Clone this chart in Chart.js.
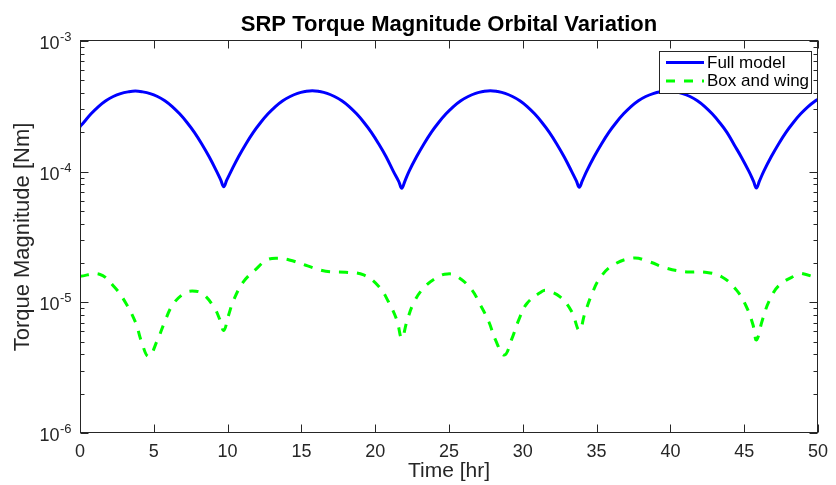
<!DOCTYPE html>
<html>
<head>
<meta charset="utf-8">
<script src="https://cdn.jsdelivr.net/npm/chart.js@4.4.0/dist/chart.umd.min.js"></script>
<style>
html,body{margin:0;padding:0;background:#fff;}
canvas{display:block;}
</style>
</head>
<body>
<canvas id="c" width="836" height="485" style="width:836px;height:485px"></canvas>
<script>
// values
const fullTime = [
  0, 0.25, 0.75, 1.25, 1.75, 2.25, 2.75, 3.25, 3.75, 4.25, 4.75, 5.25, 5.75, 6.25, 6.75, 7.25, 7.75, 8.25, 8.75, 9.25, 9.54, 9.74, 9.94,
  10.24, 10.74, 11.24, 11.74, 12.24, 12.74, 13.24, 13.74, 14.24, 14.74, 15.24, 15.74, 16.24, 16.74, 17.24, 17.74, 18.24, 18.74, 19.24, 19.74, 20.24, 20.74, 21.24, 21.6, 21.8, 22.0,
  22.3, 22.8, 23.3, 23.8, 24.3, 24.8, 25.3, 25.8, 26.3, 26.8, 27.3, 27.8, 28.3, 28.8, 29.3, 29.8, 30.3, 30.8, 31.3, 31.8, 32.3, 32.8, 33.3, 33.63, 33.83, 34.03,
  34.33, 34.83, 35.33, 35.83, 36.33, 36.83, 37.33, 37.83, 38.33, 38.83, 39.33, 39.83, 40.33, 40.83, 41.33, 41.83, 42.33, 42.83, 43.33, 43.83, 44.33, 44.83, 45.33, 45.63, 45.83, 46.03,
  46.33, 46.83, 47.33, 47.83, 48.33, 48.83, 49.33, 49.83, 50];
const fullTorque = [
  2.21e-4, 2.38e-4, 2.77e-4, 3.15e-4, 3.49e-4, 3.76e-4, 3.96e-4, 4.08e-4, 4.14e-4, 4.08e-4, 3.96e-4, 3.76e-4, 3.49e-4, 3.15e-4, 2.77e-4, 2.38e-4, 2.00e-4, 1.63e-4, 1.30e-4, 1.01e-4, 8.6e-5, 7.67e-5, 8.6e-5,
  1.01e-4, 1.30e-4, 1.63e-4, 2.00e-4, 2.38e-4, 2.77e-4, 3.15e-4, 3.49e-4, 3.76e-4, 3.97e-4, 4.10e-4, 4.17e-4, 4.10e-4, 3.97e-4, 3.76e-4, 3.49e-4, 3.15e-4, 2.77e-4, 2.38e-4, 2.00e-4, 1.63e-4, 1.30e-4, 1.00e-4, 8.4e-5, 7.46e-5, 8.4e-5,
  1.01e-4, 1.30e-4, 1.63e-4, 2.00e-4, 2.38e-4, 2.77e-4, 3.15e-4, 3.49e-4, 3.76e-4, 3.97e-4, 4.10e-4, 4.17e-4, 4.10e-4, 3.97e-4, 3.76e-4, 3.49e-4, 3.15e-4, 2.77e-4, 2.38e-4, 2.00e-4, 1.63e-4, 1.30e-4, 1.01e-4, 8.5e-5, 7.6e-5, 8.5e-5,
  1.01e-4, 1.30e-4, 1.63e-4, 2.00e-4, 2.38e-4, 2.77e-4, 3.15e-4, 3.49e-4, 3.76e-4, 3.96e-4, 4.09e-4, 4.15e-4, 4.09e-4, 3.96e-4, 3.76e-4, 3.49e-4, 3.15e-4, 2.77e-4, 2.38e-4, 2.00e-4, 1.60e-4, 1.28e-4, 1.00e-4, 8.45e-5, 7.5e-5, 8.45e-5,
  1.01e-4, 1.30e-4, 1.63e-4, 2.00e-4, 2.38e-4, 2.77e-4, 3.15e-4, 3.49e-4, 3.58e-4];

const boxTime = [0, 1.32, 2.33, 3.12, 3.79, 4.13, 4.65, 5.25, 5.7, 6.26, 7.04, 7.6, 8.28, 9.06, 9.47, 9.74, 10.07, 10.41, 11.08, 11.98,
  12.65, 13.4, 14.18, 15.42, 16.65, 17.99, 19.22, 20.23, 20.9, 21.47, 21.8, 22.14, 22.59, 23.26, 24.27, 24.9, 25.46, 26.47, 27.14,
  27.7, 28.15, 28.75, 29.27, 29.72, 30.28, 31.29, 31.63, 32.53, 33.31, 33.83, 34.2, 34.66, 35.22, 36.12, 37.5, 38.54, 39.77, 41.12,
  42.35, 43.47, 44.48, 45.15, 45.6, 45.83, 46.23, 46.72, 47.4, 48.63, 48.85, 50];
const boxTorque = [1.58e-5, 1.64e-5, 1.31e-5, 9.8e-6, 6.9e-6, 5.15e-6, 3.85e-6, 5.15e-6, 6.9e-6, 9.5e-6, 1.17e-5, 1.22e-5, 1.17e-5, 9.25e-6, 7.4e-6, 6.1e-6, 8.0e-6, 1.04e-5, 1.44e-5, 1.82e-5,
  2.11e-5, 2.17e-5, 2.11e-5, 1.90e-5, 1.73e-5, 1.70e-5, 1.62e-5, 1.33e-5, 1.01e-5, 7.3e-6, 5.3e-6, 7.1e-6, 9.8e-6, 1.28e-5, 1.57e-5, 1.65e-5, 1.60e-5, 1.28e-5, 9.5e-6,
  7.1e-6, 5.15e-6, 3.95e-6, 5.3e-6, 7.3e-6, 9.8e-6, 1.21e-5, 1.23e-5, 1.10e-5, 8.5e-6, 6.1e-6, 8.2e-6, 1.14e-5, 1.53e-5, 1.93e-5, 2.18e-5, 2.05e-5, 1.82e-5, 1.71e-5,
  1.70e-5, 1.57e-5, 1.24e-5, 9.25e-6, 6.7e-6, 5.15e-6, 7.3e-6, 1.04e-5, 1.36e-5, 1.64e-5, 1.67e-5, 1.53e-5];

const seriesNames = ['Full model', 'Box and wing'];
const chartTitle = 'SRP Torque Magnitude Orbital Variation';
const yDecades = [-6, -5, -4, -3];

const FONT = "'Liberation Sans', Arial, Helvetica, sans-serif";
const AXIS = '#262626';

const pts = (xs, ys) => xs.map((t, i) => ({x: t, y: ys[i]}));

// MATLAB style box with inward ticks on all four sides, plus 10^k labels and title
const frame = {
  id: 'frame',
  afterDatasetsDraw(chart){
    const {ctx, chartArea: a, scales: {x, y}} = chart;
    const L = Math.floor(a.left) + 0.5, R = Math.floor(a.right) + 0.5;
    const T = Math.floor(a.top) - 0.5, B = Math.floor(a.bottom) - 0.5;
    ctx.save();
    ctx.strokeStyle = AXIS;
    ctx.lineWidth = 1;
    ctx.strokeRect(L, T, R - L, B - T);
    ctx.beginPath();
    x.ticks.forEach(tk => {
      const px = Math.round(x.getPixelForValue(tk.value)) + 0.5;
      ctx.moveTo(px, B); ctx.lineTo(px, B - 8);
      ctx.moveTo(px, T); ctx.lineTo(px, T + 8);
    });
    yDecades.forEach(k => {
      for(let m = 1; m <= 9; m++){
        const v = m * Math.pow(10, k);
        if(v > y.max * 1.0001) break;
        const py = Math.round(y.getPixelForValue(v)) + 0.5;
        const len = m === 1 ? 8 : 4;
        ctx.moveTo(L, py); ctx.lineTo(L + len, py);
        ctx.moveTo(R, py); ctx.lineTo(R - len, py);
      }
    });
    ctx.stroke();

    ctx.fillStyle = AXIS;
    ctx.textBaseline = 'alphabetic';
    yDecades.forEach(k => {
      const py = y.getPixelForValue(Math.pow(10, k));
      ctx.font = '18px ' + FONT;
      ctx.textAlign = 'right';
      ctx.fillText('10', 59.5, py + 8);
      ctx.font = '13px ' + FONT;
      ctx.textAlign = 'left';
      ctx.fillText(String(k), 60, py);
    });

    // title centred over the axes, not the canvas
    ctx.fillStyle = '#000';
    ctx.font = 'bold 22px ' + FONT;
    ctx.textAlign = 'center';
    ctx.fillText(chartTitle, (a.left + a.right) / 2, 31);
    ctx.restore();
  }
};

// boxed legend, top right inside the axes
const boxLegend = {
  id: 'boxLegend',
  afterDraw(chart){
    const {ctx} = chart;
    const x0 = 659.5, y0 = 51.5, w = 152, h = 42;
    ctx.save();
    ctx.fillStyle = '#fff';
    ctx.fillRect(x0, y0, w, h);
    ctx.strokeStyle = AXIS;
    ctx.lineWidth = 1;
    ctx.strokeRect(x0, y0, w, h);
    chart.data.datasets.forEach((ds, i) => {
      const cy = 62.5 + i * 18.5;
      ctx.strokeStyle = ds.borderColor;
      ctx.lineWidth = 3;
      ctx.setLineDash(ds.borderDash || []);
      ctx.beginPath();
      ctx.moveTo(666, cy); ctx.lineTo(704, cy);
      ctx.stroke();
      ctx.setLineDash([]);
      ctx.fillStyle = '#000';
      ctx.font = '17px ' + FONT;
      ctx.textBaseline = 'middle';
      ctx.textAlign = 'left';
      ctx.fillText(ds.label, 707, cy + 0.5);
    });
    ctx.restore();
  }
};

new Chart(document.getElementById('c'), {
  type: 'line',
  data: {
    datasets: [
      {label: seriesNames[0], data: pts(fullTime, fullTorque), borderColor: '#0000ff', borderWidth: 3,
       pointRadius: 0, tension: 0.4, fill: false},
      {label: seriesNames[1], data: pts(boxTime, boxTorque), borderColor: '#00ff00', borderWidth: 3,
       borderDash: [9, 9], pointRadius: 0, tension: 0.4, fill: false}
    ]
  },
  options: {
    responsive: false,
    animation: false,
    layout: {padding: {left: 0, right: 13, top: 41, bottom: 0}},
    plugins: {
      legend: {display: false},
      tooltip: {enabled: false},
      title: {display: false}
    },
    scales: {
      x: {
        type: 'linear', min: 0, max: 50,
        ticks: {stepSize: 5, color: AXIS, font: {family: FONT, size: 18}, padding: 8, maxRotation: 0},
        grid: {display: false, drawTicks: false},
        border: {display: false},
        title: {display: true, text: 'Time [hr]', color: AXIS, font: {family: FONT, size: 21}, padding: {top: 0, bottom: 1.4}},
        afterFit(s){ s.height = 52; }
      },
      y: {
        type: 'logarithmic', min: 1e-6, max: 1e-3,
        ticks: {display: false},
        grid: {display: false, drawTicks: false},
        border: {display: false},
        title: {display: true, text: 'Torque Magnitude [Nm]', color: AXIS, font: {family: FONT, size: 22}, padding: {top: 10, bottom: 0}},
        afterFit(s){ s.width = 80; }
      }
    }
  },
  plugins: [frame, boxLegend]
});
</script>
</body>
</html>
